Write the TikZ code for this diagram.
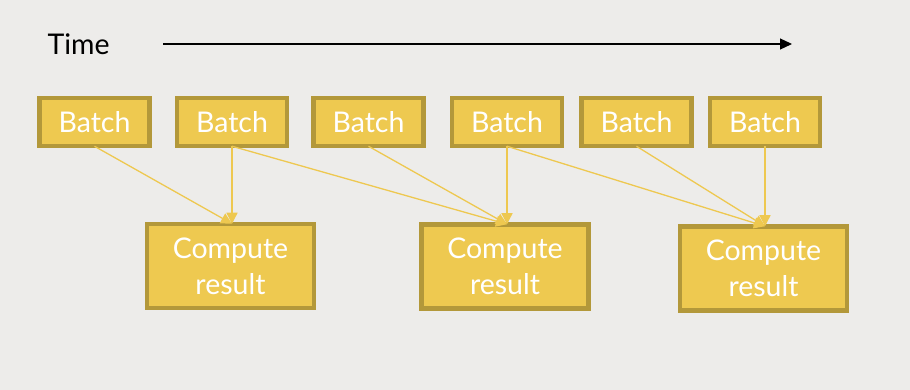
\documentclass[tikz,border=0pt]{standalone}
\usepackage{fontspec}
\setmainfont{Lato}
\usetikzlibrary{arrows.meta}
\definecolor{bg}{HTML}{EDECEA}
\definecolor{gfill}{HTML}{EEC950}
\definecolor{gborder}{HTML}{B3983A}
\definecolor{gline}{HTML}{EEC850}
\tikzset{
  box/.style={draw=gborder, fill=gfill, line width=4.5pt, inner sep=0pt, text=white, font=\fontsize{28.5}{36}\selectfont, align=center},
  batchbox/.style={box, minimum width=110pt, minimum height=48pt},
  compbox/.style={box, minimum width=167pt, minimum height=84pt},
  feed/.style={draw=gline, line width=1.3pt, -{Triangle[length=11pt,width=11pt]}},
}
\begin{document}
\begin{tikzpicture}[x=1pt,y=-1pt]
\fill[bg] (0,0) rectangle (910,390);
\useasboundingbox (0,0) rectangle (910,390);
\node[anchor=west, font=\fontsize{28.5}{34}\selectfont] (time) at (44,44) {Time};
\coordinate (ts) at (163,44);
\coordinate (te) at (792,44);
\draw[line width=1.2pt, -{Triangle[length=12pt,width=11pt]}] (ts) -- (te);
\node[batchbox] (b1) at (94.5,122) {Batch};
\node[batchbox] (b2) at (232,122) {Batch};
\node[batchbox] (b3) at (368.5,122) {Batch};
\node[batchbox] (b4) at (507,122) {Batch};
\node[batchbox] (b5) at (636.5,122) {Batch};
\node[batchbox] (b6) at (765,122) {Batch};
\node[compbox] (c1) at (230.5,266) {Compute\\result};
\node[compbox] (c2) at (505,266.5) {Compute\\result};
\node[compbox] (c3) at (763.5,268.5) {Compute\\result};
\coordinate (t1) at ([yshift=-2pt]b2.south |- c1.north);
\coordinate (t2) at ([yshift=-2pt]b4.south |- c2.north);
\coordinate (t3) at ([yshift=-2pt]b6.south |- c3.north);
\draw[feed] (b1.south) ++(0,-2) -- (t1);
\draw[feed] (b2.south) ++(0,-2) -- (t1);
\draw[feed] (b2.south) ++(0,-2) -- (t2);
\draw[feed] (b3.south) ++(0,-2) -- (t2);
\draw[feed] (b4.south) ++(0,-2) -- (t2);
\draw[feed] (b4.south) ++(0,-2) -- (t3);
\draw[feed] (b5.south) ++(0,-2) -- (t3);
\draw[feed] (b6.south) ++(0,-2) -- (t3);
\end{tikzpicture}
\end{document}
